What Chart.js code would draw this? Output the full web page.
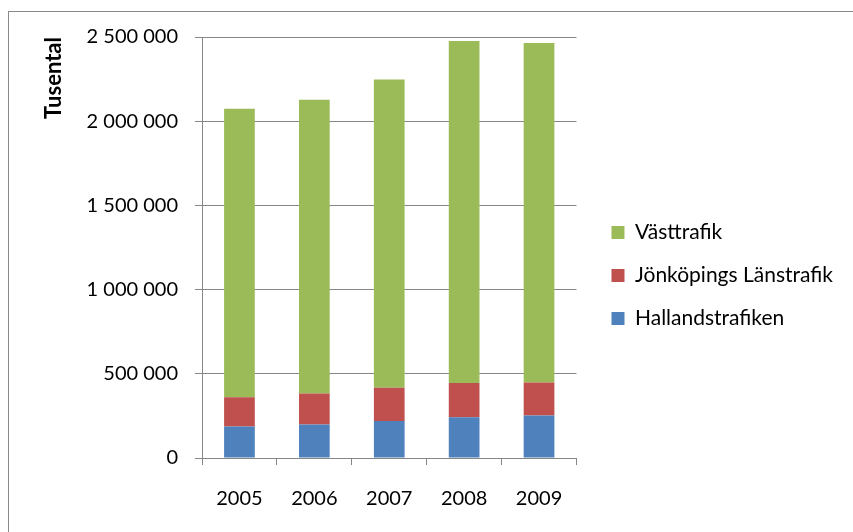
<!DOCTYPE html>
<html>
<head>
<meta charset="utf-8">
<script src="https://cdn.jsdelivr.net/npm/chart.js@4"></script>
<style>
  body { margin: 0; background: #fff; }
  #frame { position: absolute; left: 8px; top: 11px; width: 845px; height: 521px; border-left: 1px solid #8a8a8a; border-top: 1px solid #8a8a8a; }
  #wrap { position: absolute; left: 0; top: 0; width: 853px; height: 532px; }
</style>
</head>
<body>
<div id="frame"></div>
<div id="wrap"><canvas id="trafik"></canvas></div>
<script>
const years = ['2005', '2006', '2007', '2008', '2009'];

// values (Tusental)
const hallandstrafiken = [187000, 199000, 220000, 242000, 252000];
const jonkopings = [174000, 184000, 197000, 204000, 197000];
const vasttrafik = [1713000, 1744000, 1831000, 2030000, 2015000];

const y_max = 2500000;
const y_step = 500000;

const grid_color = '#868686';

let data = {
  labels: years,
  datasets: [{
    label: 'Hallandstrafiken',
    data: hallandstrafiken,
    backgroundColor: '#4F81BD'
  }, {
    label: 'Jönköpings Länstrafik',
    data: jonkopings,
    backgroundColor: '#C0504D'
  }, {
    label: 'Västtrafik',
    data: vasttrafik,
    backgroundColor: '#9BBB59'
  }]
};

Chart.defaults.font.family = 'Lato';
Chart.defaults.color = '#000';

function draw() {
  new Chart(document.getElementById('trafik'), {
    type: 'bar',
    data: data,
    options: {
      responsive: true,
      maintainAspectRatio: false,
      animation: false,
      barPercentage: 0.41,
      categoryPercentage: 1,
      layout: {
        padding: { top: 37, right: 10, bottom: 18, left: 0 }
      },
      plugins: {
        tooltip: { enabled: false },
        legend: {
          position: 'right',
          reverse: true,
          maxWidth: 300,
          labels: {
            boxWidth: 13,
            boxHeight: 13,
            padding: 22,
            font: { size: 21 },
            color: '#000'
          }
        }
      },
      scales: {
        x: {
          stacked: true,
          grid: {
            offset: true,
            drawOnChartArea: false,
            drawTicks: true,
            tickLength: 7,
            color: grid_color
          },
          border: { color: grid_color },
          ticks: { padding: 22, font: { size: 20 } },
          afterFit: function (scale) { scale.height = 56; }
        },
        y: {
          stacked: true,
          min: 0,
          max: y_max,
          grid: { color: grid_color, tickLength: 7 },
          border: { color: grid_color },
          ticks: {
            stepSize: y_step,
            padding: 17,
            font: { size: 20 },
            callback: v => String(v).replace(/\B(?=(\d{3})+(?!\d))/g, ' ')
          },
          title: {
            display: true,
            text: 'Tusental',
            align: 'end',
            font: { size: 22, weight: 'bold' },
            padding: { top: 41, bottom: 0 }
          },
          afterFit: function (scale) { scale.width = 202; }
        },
        // empty spacer between plot and legend
        gap: {
          position: 'right',
          display: true,
          grid: { display: false },
          border: { display: false },
          ticks: { display: false },
          afterFit: function (scale) { scale.width = 13; }
        }
      }
    }
  });
}

Promise.all([
  document.fonts.load('20px Lato'),
  document.fonts.load('bold 20px Lato')
]).then(draw, draw);
</script>
</body>
</html>
